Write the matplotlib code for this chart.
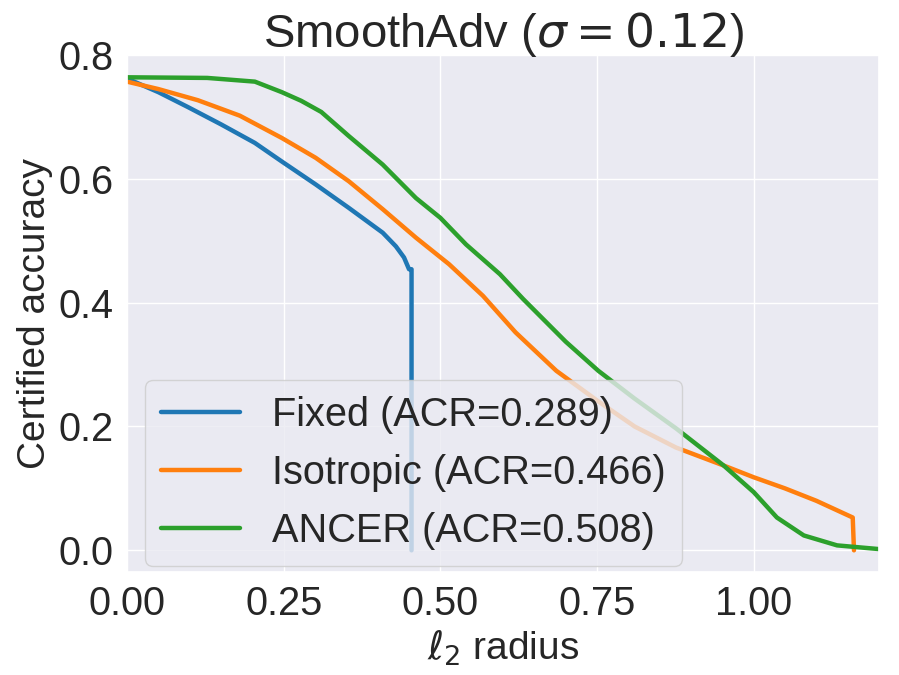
import matplotlib
matplotlib.use("Agg")
import matplotlib.pyplot as plt
import seaborn as sns

# certified accuracy vs l2 radius
fixed_r = [0, 0.05, 0.097, 0.15, 0.204, 0.247, 0.301, 0.354, 0.408, 0.429, 0.442,
           0.450, 0.454, 0.454]
fixed_acc = [0.762, 0.740, 0.716, 0.688, 0.658, 0.628, 0.591, 0.553, 0.513, 0.491, 0.473,
             0.454, 0.454, 0.0]

iso_r = [0, 0.05, 0.113, 0.18, 0.247, 0.301, 0.354, 0.408, 0.461, 0.514, 0.568, 0.620,
         0.685, 0.75, 0.81, 0.876, 0.952, 1.0, 1.05, 1.10, 1.158, 1.160]
iso_acc = [0.757, 0.745, 0.727, 0.702, 0.666, 0.634, 0.596, 0.551, 0.505, 0.462, 0.411, 0.352,
           0.290, 0.242, 0.200, 0.166, 0.137, 0.118, 0.100, 0.080, 0.053, 0.0]

ancer_r = [0, 0.128, 0.204, 0.247, 0.278, 0.31, 0.354, 0.408, 0.461, 0.50, 0.541, 0.595,
           0.632, 0.70, 0.752, 0.81, 0.876, 0.952, 1.0, 1.037, 1.08, 1.133, 1.2]
ancer_acc = [0.764, 0.763, 0.757, 0.740, 0.726, 0.708, 0.669, 0.623, 0.569, 0.537, 0.494, 0.446,
             0.406, 0.337, 0.290, 0.245, 0.197, 0.137, 0.094, 0.053, 0.024, 0.008, 0.002]

labels = ["Fixed (ACR=0.289)", "Isotropic (ACR=0.466)", "ANCER (ACR=0.508)"]

sns.set_theme(style="darkgrid", font_scale=2.6)
plt.rcParams['font.family'] = ['Liberation Sans', 'DejaVu Sans']
plt.rcParams['axes.labelsize'] = 28

fig = plt.figure(figsize=(8.99, 6.75), dpi=100)
ax = fig.add_axes([0.1413, 0.1526, 0.8365, 0.7659])

ax.plot(fixed_r, fixed_acc, color="#1f77b4", lw=3.2, label=labels[0])
ax.plot(iso_r, iso_acc, color="#ff7f0e", lw=3.2, label=labels[1])
ax.plot(ancer_r, ancer_acc, color="#2ca02c", lw=3.2, label=labels[2])

ax.set_xlim(0, 1.2)
ax.set_ylim(-0.035, 0.8)
ax.set_xticks([0, 0.25, 0.5, 0.75, 1.0])
ax.set_yticks([0, 0.2, 0.4, 0.6, 0.8])
ax.set_xlabel(r"$\ell_2$ radius")
ax.set_ylabel("Certified accuracy")
ax.set_title(r"SmoothAdv ($\sigma=0.12$)", fontsize=34)
ax.legend(loc="lower left", bbox_to_anchor=(0.024, 0.012), borderaxespad=0)

fig.savefig("out.png", dpi=100)
